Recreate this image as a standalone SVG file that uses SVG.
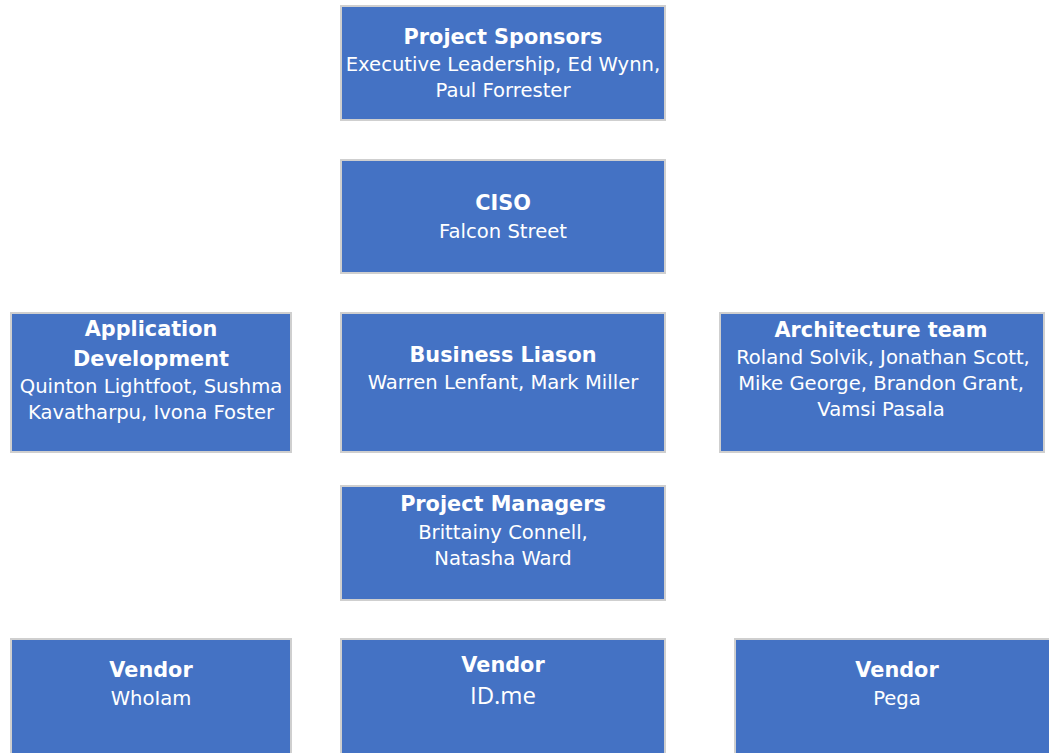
<svg xmlns="http://www.w3.org/2000/svg" width="1049" height="753" viewBox="0 0 1049 753">
<style>
.box{fill:#4472C4;stroke:#CFCFCF;stroke-width:2}
.t{font-family:"DejaVu Sans","Verdana",sans-serif;fill:#FFFFFF;text-anchor:middle}
.h{font-size:20.8px;font-weight:bold}
.b{font-size:19.6px}
</style>
<rect width="1049" height="753" fill="#FFFFFF"/>
<g id="connectors"></g>
<g id="project-sponsors">
<rect class="box" x="341" y="6" width="324" height="114"/>
<text class="t h" x="503" y="44">Project Sponsors</text>
<text class="t b" x="503" y="71">Executive Leadership, Ed Wynn,</text>
<text class="t b" x="503" y="97">Paul Forrester</text>
</g>
<g id="ciso">
<rect class="box" x="341" y="160" width="324" height="113"/>
<text class="t h" x="503" y="210">CISO</text>
<text class="t b" x="503" y="238">Falcon Street</text>
</g>
<g id="application-development">
<rect class="box" x="11" y="313" width="280" height="139"/>
<text class="t h" x="151" y="336">Application</text>
<text class="t h" x="151" y="366">Development</text>
<text class="t b" x="151" y="393">Quinton Lightfoot, Sushma</text>
<text class="t b" x="151" y="419">Kavatharpu, Ivona Foster</text>
</g>
<g id="business-liason">
<rect class="box" x="341" y="313" width="324" height="139"/>
<text class="t h" x="503" y="362">Business Liason</text>
<text class="t b" x="503" y="389">Warren Lenfant, Mark Miller</text>
</g>
<g id="architecture-team">
<rect class="box" x="720" y="313" width="324" height="139"/>
<text class="t h" x="881" y="337">Architecture team</text>
<text class="t b" x="883" y="364">Roland Solvik, Jonathan Scott,</text>
<text class="t b" x="881" y="390">Mike George, Brandon Grant,</text>
<text class="t b" x="881" y="416">Vamsi Pasala</text>
</g>
<g id="project-managers">
<rect class="box" x="341" y="486" width="324" height="114"/>
<text class="t h" x="503" y="511">Project Managers</text>
<text class="t b" x="503" y="539">Brittainy Connell,</text>
<text class="t b" x="503" y="565">Natasha Ward</text>
</g>
<g id="vendor-whoiam">
<rect class="box" x="11" y="639" width="280" height="120"/>
<text class="t h" x="151" y="677">Vendor</text>
<text class="t b" x="151" y="705">WhoIam</text>
</g>
<g id="vendor-idme">
<rect class="box" x="341" y="639" width="324" height="120"/>
<text class="t h" x="503" y="672">Vendor</text>
<text class="t" x="503" y="704" style="font-family:'Open Sans','Liberation Sans',sans-serif;font-size:24px">ID.me</text>
</g>
<g id="vendor-pega">
<rect class="box" x="735" y="639" width="330" height="120"/>
<text class="t h" x="897" y="677">Vendor</text>
<text class="t b" x="897" y="705">Pega</text>
</g>
</svg>
